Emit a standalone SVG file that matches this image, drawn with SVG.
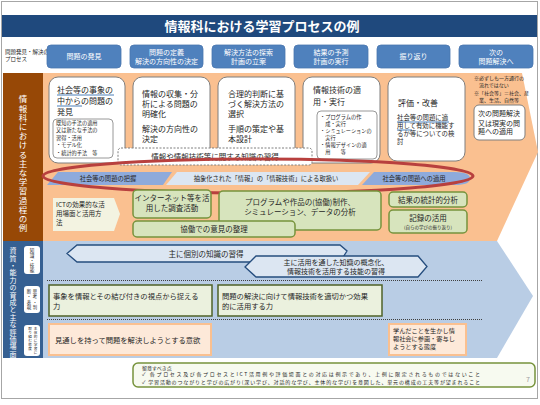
<svg xmlns="http://www.w3.org/2000/svg" width="540" height="405" viewBox="0 0 540 405">
<style>
text{font-family:"Noto Sans CJK JP","Noto Sans",sans-serif;fill:#262626}
.pb{fill:#4F81BD;stroke:#4A76AE;stroke-width:0.8}
.pt{fill:#fff;font-size:7px;text-anchor:middle}
.wb{fill:#fff;stroke:#7F7F7F;stroke-width:1}
.m8{font-size:8px}
.s5{font-size:5.2px}
.br{fill:none;stroke:#7F7F7F;stroke-width:0.8}
.gb{fill:#D7E4BD;stroke:#77933C;stroke-width:1.5}
.g7{font-size:7.5px;text-anchor:middle}
.tb{fill:#EBF1DE;stroke:#4F6228;stroke-width:1.5}
.ob{fill:#FDE9D9;stroke:#FAC090;stroke-width:2}
.ar{fill:#DCE6F2;stroke:#254D7E;stroke-width:1.3}
.dl{stroke:#404040;stroke-width:1;stroke-dasharray:1 1}
.vt{writing-mode:vertical-rl;text-orientation:upright;fill:#fff}
.ul{stroke:#1F5FA8;stroke-width:0.8}
.tiny{text-anchor:middle}
</style>
<rect x="0" y="0" width="540" height="405" fill="#fff"/>
<rect x="1.5" y="1.5" width="536" height="397" fill="none" stroke="#A6A6A6" stroke-width="1"/>
<g id="title">
<rect x="2" y="15" width="535" height="22" fill="#1F497D"/>
<text x="262" y="31" font-size="13" font-weight="bold" text-anchor="middle" style="fill:#fff">情報科における学習プロセスの例</text>
</g>
<g id="process-label">
<text x="5" y="54" font-size="5.5">問題発見・解決の</text>
<text x="5" y="61" font-size="5.5">プロセス</text>
</g>
<g id="p1"><rect class="pb" x="47" y="45" width="74" height="23" rx="4"/><text class="pt" x="84" y="59">問題の発見</text></g>
<g id="p2"><rect class="pb" x="130" y="45" width="73" height="23" rx="4"/><text class="pt" x="166.5" y="55">問題の定義</text><text class="pt" x="166.5" y="64">解決の方向性の決定</text></g>
<g id="p3"><rect class="pb" x="212" y="45" width="73" height="23" rx="4"/><text class="pt" x="248.5" y="55">解決方法の探索</text><text class="pt" x="248.5" y="64">計画の立案</text></g>
<g id="p4"><rect class="pb" x="294" y="45" width="74" height="23" rx="4"/><text class="pt" x="331" y="55">結果の予測</text><text class="pt" x="331" y="64">計画の実行</text></g>
<g id="p5"><rect class="pb" x="377" y="45" width="73" height="23" rx="4"/><text class="pt" x="413.5" y="59">振り返り</text></g>
<g id="p6"><rect class="pb" x="459" y="45" width="74" height="23" rx="4"/><text class="pt" x="496" y="55">次の</text><text class="pt" x="496" y="64">問題解決へ</text></g>

<g id="learning-section">
<polygon points="43,73 522,73 538,152 497,241 43,241" fill="#FAC090"/>
<rect x="3" y="73" width="40" height="168" fill="#974806"/>
<text class="vt" x="23" y="95" font-size="8.5" letter-spacing="0.7">情報科における主な学習過程の例</text>
</g>
<g id="competency-section">
<polygon points="43,241 497,241 533,296 497,358 43,358" fill="#B9CDE5"/>
<rect x="3" y="241" width="40" height="117" fill="#366092"/>
<text class="vt" x="13" y="247" font-size="7" letter-spacing="0.4">資質・能力の育成と主な評価場面</text>
<rect x="24" y="246" width="16" height="28" rx="3" fill="#fff"/>
<text class="tiny" font-size="4.6"><tspan x="32" y="252">知</tspan><tspan x="32" y="257">識</tspan><tspan x="32" y="262">・</tspan><tspan x="32" y="267">技</tspan><tspan x="32" y="272">能</tspan></text>
<rect x="24" y="286" width="16" height="27" rx="3" fill="#fff"/>
<text class="tiny" font-size="4.4"><tspan x="35" y="292.5">思</tspan><tspan x="35" y="298">考</tspan><tspan x="35" y="303.5">・</tspan><tspan x="35" y="309">判</tspan><tspan x="29" y="292.5">断</tspan><tspan x="29" y="298">・</tspan><tspan x="29" y="303.5">表</tspan><tspan x="29" y="309">現</tspan></text>
<rect x="24" y="325" width="16" height="31" rx="3" fill="#fff"/>
<text class="tiny" font-size="3.6"><tspan x="35.5" y="330">主</tspan><tspan x="35.5" y="334">体</tspan><tspan x="35.5" y="338">的</tspan><tspan x="35.5" y="342">に</tspan><tspan x="35.5" y="346">学</tspan><tspan x="35.5" y="350">習</tspan><tspan x="35.5" y="354">に</tspan><tspan x="30" y="330">取</tspan><tspan x="30" y="334">り</tspan><tspan x="30" y="338">組</tspan><tspan x="30" y="342">む</tspan><tspan x="30" y="346">態</tspan><tspan x="30" y="350">度</tspan></text>
</g>

<g id="box1">
<rect class="wb" x="49" y="77" width="76" height="86" rx="9"/>
<text class="m8" x="57" y="93">社会等の事象の</text>
<text class="m8" x="57" y="104">中からの問題の</text>
<text class="m8" x="57" y="115">発見</text>
<line class="ul" x1="57" y1="95" x2="114" y2="95"/>
<line class="ul" x1="57" y1="106" x2="82" y2="106"/>
<rect class="br" x="53" y="119" width="60" height="39" rx="4"/>
<text class="s5" x="56" y="125">既知の手法の適用</text>
<text class="s5" x="56" y="132">又は新たな手法の</text>
<text class="s5" x="56" y="139.5">習得・活用</text>
<text class="s5" x="56" y="147">・モデル化</text>
<text class="s5" x="56" y="154.5">・統計的手法　等</text>
</g>
<g id="box2">
<rect class="wb" x="133" y="77" width="77" height="86" rx="9"/>
<text class="m8" x="142" y="97">情報の収集・分</text>
<text class="m8" x="142" y="107">析による問題の</text>
<text class="m8" x="142" y="117">明確化</text>
<text class="m8" x="142" y="132">解決の方向性の</text>
<text class="m8" x="142" y="142">決定</text>
</g>
<g id="box3">
<rect class="wb" x="218" y="77" width="77" height="86" rx="9"/>
<text class="m8" x="228" y="97">合理的判断に基</text>
<text class="m8" x="228" y="107">づく解決方法の</text>
<text class="m8" x="228" y="117">選択</text>
<text class="m8" x="228" y="132">手順の策定や基</text>
<text class="m8" x="228" y="142">本設計</text>
</g>
<g id="box4">
<rect class="wb" x="303" y="77" width="77" height="86" rx="9"/>
<text class="m8" x="313" y="93">情報技術の適</text>
<text class="m8" x="313" y="105">用・実行</text>
<rect class="br" x="317" y="111" width="60" height="48" rx="4"/>
<text class="s5" x="320" y="119">・プログラムの作</text>
<text class="s5" x="320" y="125.5">　成・実行</text>
<text class="s5" x="320" y="133">・シミュレーションの</text>
<text class="s5" x="320" y="139.5">　実行</text>
<text class="s5" x="320" y="147">・情報デザインの適</text>
<text class="s5" x="320" y="153.5">　用　　等</text>
</g>
<g id="box5">
<rect class="wb" x="388" y="77" width="77" height="84" rx="9"/>
<text class="m8" x="398" y="106">評価・改善</text>
<text x="397" y="120" font-size="6.4">社会等の問題に適</text>
<text x="397" y="128" font-size="6.4">用して有効に機能す</text>
<text x="397" y="136" font-size="6.4">るか等についての検</text>
<text x="397" y="144" font-size="6.4">討</text>
<line class="ul" x1="397" y1="122" x2="449" y2="122"/>
<line class="ul" x1="397" y1="130" x2="412" y2="130"/>
</g>
<g id="notes">
<text x="474" y="80" font-size="5">※必ずしも一方通行の</text>
<text x="474" y="87" font-size="5">　流れではない</text>
<text x="474" y="95" font-size="5">※「社会等」＝社会、産</text>
<text x="474" y="101.5" font-size="5">　業、生活、自然等</text>
</g>
<g id="box6">
<rect class="wb" x="474" y="105" width="51" height="35" rx="5"/>
<text x="478" y="116" font-size="7">次の問題解決</text>
<text x="478" y="125.5" font-size="7">又は現実の問</text>
<text x="478" y="134" font-size="7">題への適用</text>
</g>
<g id="knowledge">
<rect x="118" y="148" width="194" height="17" rx="3" fill="#fff" stroke="#7F7F7F" stroke-width="1" stroke-dasharray="2 1.5"/>
<text x="215" y="159.5" font-size="7.5" text-anchor="middle">情報や情報技術等に関する知識の習得</text>
</g>
<g id="band">
<polygon points="58,172 172,172 163,185 47,185" fill="#8EAADB"/>
<polygon points="177,172 370,172 358,185 166,185" fill="#DCE6F2"/>
<path d="M374,172 H455 Q470,172 470,178.5 Q470,185 455,185 H362 Z" fill="#8EAADB"/>
<text x="108" y="181" font-size="6.3" text-anchor="middle">社会等の問題の把握</text>
<text x="266" y="181" font-size="6.3" text-anchor="middle">抽象化された「情報」の「情報技術」による取扱い</text>
<text x="414" y="181" font-size="6.3" text-anchor="middle">社会等の問題への適用</text>
</g>
<g id="ellipse">
<ellipse cx="258" cy="176" rx="215" ry="17" fill="none" stroke="#B8403E" stroke-width="3"/>
</g>
<g id="ict">
<polygon points="53,198 114,198 120,214 114,231 53,231" fill="#F3F3E1"/>
<text x="56" y="207" font-size="6.5">ICTの効果的な活</text>
<text x="56" y="216" font-size="6.5">用場面と活用方</text>
<text x="56" y="225" font-size="6.5">法</text>
</g>
<g id="g1"><rect class="gb" x="133" y="190" width="78" height="28" rx="4"/><text class="g7" x="172" y="201">インターネット等を活</text><text class="g7" x="172" y="210.5">用した調査活動</text></g>
<g id="g2"><rect class="gb" x="219" y="191" width="162" height="39" rx="4"/><text class="g7" x="300" y="205">プログラムや作品の(協働)制作、</text><text class="g7" x="300" y="215">シミュレーション、データの分析</text></g>
<g id="g3"><rect class="gb" x="133" y="221" width="162" height="16" rx="4"/><text class="g7" x="214" y="231.5">協働での意見の整理</text></g>
<g id="g4"><rect class="gb" x="389" y="192" width="78" height="15" rx="4"/><text class="g7" x="428" y="202.5">結果の統計的分析</text></g>
<g id="g5"><rect class="gb" x="389" y="210" width="78" height="23" rx="4"/><text class="g7" x="428" y="221">記録の活用</text><text x="428" y="228.5" font-size="4.5" text-anchor="middle">(自らの学びの振り返り)</text></g>

<g id="arrow1">
<polygon class="ar" points="67,253.5 77,245 340,245 347,251 340,262 77,262"/>
<text x="206" y="256.5" font-size="7.5" text-anchor="middle">主に個別の知識の習得</text>
</g>
<g id="arrow2">
<polygon class="ar" points="245,267 256,256 418,256 427,266.5 418,277 256,277"/>
<text x="336" y="265" font-size="7" text-anchor="middle">主に活用を通した知識の概念化、</text>
<text x="336" y="274" font-size="7" text-anchor="middle">情報技術を活用する技能の習得</text>
</g>
<g id="connectors">
<line class="dl" x1="47" y1="280.5" x2="482" y2="280.5"/>
<line class="dl" x1="47" y1="319.5" x2="482" y2="319.5"/>
</g>
<g id="t1"><rect class="tb" x="49" y="285" width="163" height="31"/><text x="53" y="299" font-size="7.3">事象を情報とその結び付きの視点から捉える</text><text x="53" y="309" font-size="7.3">力</text></g>
<g id="t2"><rect class="tb" x="218" y="285" width="164" height="31"/><text x="222" y="299" font-size="7.3">問題の解決に向けて情報技術を適切かつ効果</text><text x="222" y="309" font-size="7.3">的に活用する力</text></g>
<g id="o1"><rect class="ob" x="49" y="324" width="162" height="31"/><text x="55" y="342.5" font-size="7.3">見通しを持って問題を解決しようとする意欲</text></g>
<g id="o2"><rect class="ob" x="389" y="324" width="77" height="31"/><text x="393" y="333" font-size="6.2">学んだことを生かし情</text><text x="393" y="341" font-size="6.2">報社会に参画・寄与し</text><text x="393" y="349" font-size="6.2">ようとする態度</text></g>

<g id="note">
<rect x="133" y="363" width="402" height="24" rx="5" fill="#F7FAF0" stroke="#77933C" stroke-width="1.5"/>
<text x="142" y="369.5" font-size="5">留意すべき点</text>
<text x="142" y="376" font-size="5" textLength="338" lengthAdjust="spacing">✓ 各プロセス及び各プロセスとICT活用例や評価場面との対応は例示であり、上例に限定されるものではないこと</text>
<text x="142" y="383.5" font-size="5" textLength="338" lengthAdjust="spacing">✓ 学習活動のつながりと学びの広がり(深い学び、対話的な学び、主体的な学び)を意図した、単元の構成の工夫等が望まれること</text>
<text x="526" y="382" font-size="7" style="fill:#A0A0A0">7</text>
</g>
</svg>
